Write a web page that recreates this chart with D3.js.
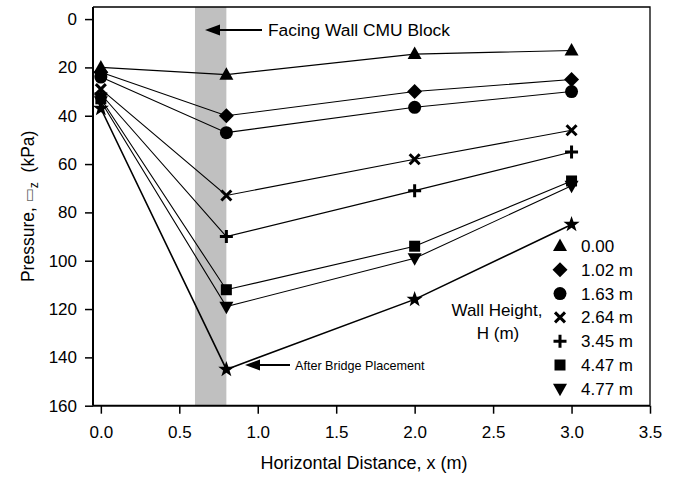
<!DOCTYPE html>
<html>
<head>
<meta charset="utf-8">
<script src="https://cdn.jsdelivr.net/npm/d3@7/dist/d3.min.js"></script>
<style>
  html, body { margin: 0; padding: 0; background: #fff; }
  svg { display: block; font-family: "Liberation Sans", Arial, sans-serif; }
</style>
</head>
<body>
<svg id="chart" width="674" height="479"></svg>
<script>
// Horizontal distance from the facing wall (m)
const distances = [0, 0.8, 2.0, 3.0];

// Wall-height stages shown in the legend
const wallHeights = ["0.00", "1.02 m", "1.63 m", "2.64 m", "3.45 m", "4.47 m", "4.77 m"];

// Vertical pressure (kPa) at each distance, per wall height
const p000 = [20, 23, 14.5, 13];
const p102 = [22, 40, 30, 25];
const p163 = [24, 47, 36.5, 30];
const p264 = [29, 73, 58, 46];
const p345 = [31, 90, 71, 55];
const p447 = [33, 112, 94, 67];
const p477 = [34, 119, 99, 69];
// After the bridge was placed
const pBridge = [37, 145, 116, 85];

// Facing wall CMU block extent (m)
const blockExtent = [0.6, 0.8];

const xTicks = [0, 0.5, 1.0, 1.5, 2.0, 2.5, 3.0, 3.5];
const yTicks = [0, 20, 40, 60, 80, 100, 120, 140, 160];

const series = [
  { name: wallHeights[0], values: p000, shape: "triUp" },
  { name: wallHeights[1], values: p102, shape: "diamond" },
  { name: wallHeights[2], values: p163, shape: "circle" },
  { name: wallHeights[3], values: p264, shape: "cross" },
  { name: wallHeights[4], values: p345, shape: "plus" },
  { name: wallHeights[5], values: p447, shape: "square" },
  { name: wallHeights[6], values: p477, shape: "triDown" },
  { name: "bridge", values: pBridge, shape: "star" }
];

const svg = d3.select("#chart");
const plotLeft = 93, plotRight = 650, plotTop = 7, plotBottom = 405.7;

const x = d3.scaleLinear().domain([-0.05, 3.5]).range([plotLeft, plotRight]);
const y = d3.scaleLinear().domain([-5, 160]).range([plotTop, plotBottom]);

// Marker path builders (centered at origin)
function starPath(ro, ri) {
  const pts = [];
  for (let i = 0; i < 10; i++) {
    const r = i % 2 === 0 ? ro : ri;
    const a = -Math.PI / 2 + i * Math.PI / 5;
    pts.push([r * Math.cos(a), r * Math.sin(a)]);
  }
  return "M" + pts.map(p => p[0].toFixed(2) + "," + p[1].toFixed(2)).join("L") + "Z";
}
const shapes = {
  triUp:   { d: "M0,-7.5L7,5L-7,5Z", fill: true },
  triDown: { d: "M0,7.5L7,-5L-7,-5Z", fill: true },
  diamond: { d: "M0,-7.5L7.5,0L0,7.5L-7.5,0Z", fill: true },
  circle:  { d: d3.arc()({ innerRadius: 0, outerRadius: 6.5, startAngle: 0, endAngle: 2 * Math.PI }), fill: true },
  square:  { d: "M-5.5,-5.5H5.5V5.5H-5.5Z", fill: true },
  cross:   { d: "M-5,-5L5,5M5,-5L-5,5", fill: false },
  plus:    { d: "M-6.5,0H6.5M0,-6.5V6.5", fill: false },
  star:    { d: starPath(8.5, 3.4), fill: true }
};
function drawMarker(g, shape, cx, cy) {
  const s = shapes[shape];
  g.append("path")
    .attr("d", s.d)
    .attr("transform", `translate(${cx},${cy})`)
    .attr("fill", s.fill ? "#000" : "none")
    .attr("stroke", s.fill ? "none" : "#000")
    .attr("stroke-width", s.fill ? 0 : 3);
}

// Facing wall block band
svg.append("rect")
  .attr("x", x(blockExtent[0]))
  .attr("y", plotTop)
  .attr("width", x(blockExtent[1]) - x(blockExtent[0]))
  .attr("height", plotBottom - plotTop)
  .attr("fill", "#c0c0c0");

// Frame (top and right edges)
svg.append("path")
  .attr("d", `M${plotLeft},${plotTop}H${plotRight}V${plotBottom}`)
  .attr("fill", "none")
  .attr("stroke", "#000")
  .attr("stroke-width", 1.3);

// Axes
const xAxis = d3.axisBottom(x).tickValues(xTicks).tickFormat(d3.format(".1f")).tickSizeInner(8).tickSizeOuter(0).tickPadding(12);
const gx = svg.append("g").attr("transform", `translate(0,${plotBottom})`).call(xAxis);
const yAxis = d3.axisLeft(y).tickValues(yTicks).tickFormat(d3.format("d")).tickSizeInner(8).tickSizeOuter(0).tickPadding(8);
const gy = svg.append("g").attr("transform", `translate(${plotLeft},0)`).call(yAxis);
[gx, gy].forEach(g => {
  g.select(".domain").attr("stroke-width", 2);
  g.selectAll(".tick line").attr("stroke-width", 1.5);
  g.selectAll(".tick text").attr("font-size", 17).attr("font-family", "Liberation Sans, Arial, sans-serif").attr("fill", "#000");
});
gx.select(".domain").attr("d", `M${plotLeft},0H${plotRight}`);
gy.select(".domain").attr("d", `M0,${plotTop}V${plotBottom}`);

// Axis titles
svg.append("text")
  .attr("x", 364).attr("y", 469)
  .attr("text-anchor", "middle")
  .attr("font-size", 18)
  .text("Horizontal Distance, x (m)");

const yTitle = svg.append("text")
  .attr("transform", `translate(34,${(plotTop + plotBottom) / 2}) rotate(-90)`)
  .attr("text-anchor", "middle")
  .attr("font-size", 17.5);
yTitle.append("tspan").text("Pressure, ");
yTitle.append("tspan").attr("font-family", "DejaVu Sans").attr("font-size", 15).attr("fill", "#666").text("\u25AD");
yTitle.append("tspan").attr("font-size", 12).attr("dy", 4).text("z");
yTitle.append("tspan").attr("dy", -4).text("\u00A0 (kPa)");

// Lines and markers
const line = d3.line().x((d, i) => x(distances[i])).y(d => y(d));
const gSeries = svg.append("g");
series.forEach(s => {
  gSeries.append("path")
    .attr("d", line(s.values))
    .attr("fill", "none")
    .attr("stroke", "#000")
    .attr("stroke-width", s.shape === "star" ? 1.6 : 1.1);
});
series.forEach(s => {
  s.values.forEach((v, i) => drawMarker(gSeries, s.shape, x(distances[i]), y(v)));
});

// Annotation arrows
function arrow(x1, x2, yy) {
  svg.append("line").attr("x1", x1).attr("x2", x2 + 12).attr("y1", yy).attr("y2", yy)
    .attr("stroke", "#000").attr("stroke-width", 2);
  svg.append("path").attr("d", `M${x2},${yy}L${x2 + 15},${yy - 5.5}L${x2 + 15},${yy + 5.5}Z`).attr("fill", "#000");
}
arrow(262, 205, 30);
svg.append("text").attr("x", 268).attr("y", 36).attr("font-size", 17.4).text("Facing Wall CMU Block");

arrow(290, 245, 365);
svg.append("text").attr("x", 295).attr("y", 369.5).attr("font-size", 12.6).text("After Bridge Placement");

// Legend
const legendY0 = 246, legendStep = 23.8;
const gLegend = svg.append("g");
series.filter(s => s.shape !== "star").forEach((s, i) => {
  const ly = legendY0 + i * legendStep;
  drawMarker(gLegend, s.shape, 560, ly);
  gLegend.append("text").attr("x", 581).attr("y", ly + 6).attr("font-size", 17).text(s.name);
});
gLegend.append("text").attr("x", 497).attr("y", 316).attr("text-anchor", "middle").attr("font-size", 17).text("Wall Height,");
gLegend.append("text").attr("x", 498).attr("y", 339).attr("text-anchor", "middle").attr("font-size", 17).text("H (m)");
</script>
</body>
</html>
